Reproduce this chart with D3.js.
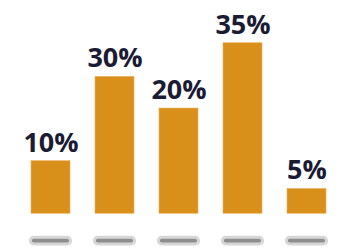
<!DOCTYPE html>
<html>
<head>
<meta charset="utf-8">
<script src="https://cdn.jsdelivr.net/npm/d3@7"></script>
<style>
  html, body { margin: 0; padding: 0; background: #ffffff; }
  svg { display: block; }
</style>
</head>
<body>
<svg id="chart" width="350" height="250"></svg>
<script>
// data
const categories = ["A", "B", "C", "D", "E"];
const values = [10.8, 28.1, 21.6, 35, 5.1];
const labels = ["10%", "30%", "20%", "35%", "5%"];

const svg = d3.select("#chart"),
    width = +svg.attr("width"),
    height = +svg.attr("height");

const x = d3.scaleBand()
    .domain(categories)
    .range([18.5, 338.5])
    .paddingInner(0.39)
    .paddingOuter(0.195);

const y = d3.scaleLinear()
    .domain([0, 35])
    .range([213.3, 42.7]);

const rows = categories.map((c, i) => ({ cat: c, value: values[i], label: labels[i] }));

// bars
svg.selectAll(".bar")
    .data(rows)
    .join("rect")
    .attr("class", "bar")
    .attr("x", d => x(d.cat))
    .attr("y", d => y(d.value))
    .attr("width", x.bandwidth())
    .attr("height", d => y(0) - y(d.value))
    .attr("fill", "#d9901b")
    .attr("stroke", "#eab566")
    .attr("stroke-width", 0.6);

// value labels
svg.selectAll(".label")
    .data(rows)
    .join("text")
    .attr("class", "label")
    .attr("x", d => x(d.cat) + x.bandwidth() / 2 + 0.5)
    .attr("y", d => y(d.value) - 9)
    .attr("text-anchor", "middle")
    .style("font-family", "'Open Sans', 'Noto Sans', sans-serif")
    .style("font-weight", "bold")
    .style("font-size", "27px")
    .style("fill", "#1b1b33")
    .text(d => d.label);

// placeholder pills under each bar
svg.selectAll(".pill")
    .data(rows)
    .join("rect")
    .attr("class", "pill")
    .attr("x", d => x(d.cat) - 0.5)
    .attr("y", 237.3)
    .attr("width", x.bandwidth() + 1)
    .attr("height", 6.7)
    .attr("rx", 3.3)
    .attr("fill", "#8e8e8e")
    .attr("stroke", "#d6d6d6")
    .attr("stroke-width", 3);
</script>
</body>
</html>
